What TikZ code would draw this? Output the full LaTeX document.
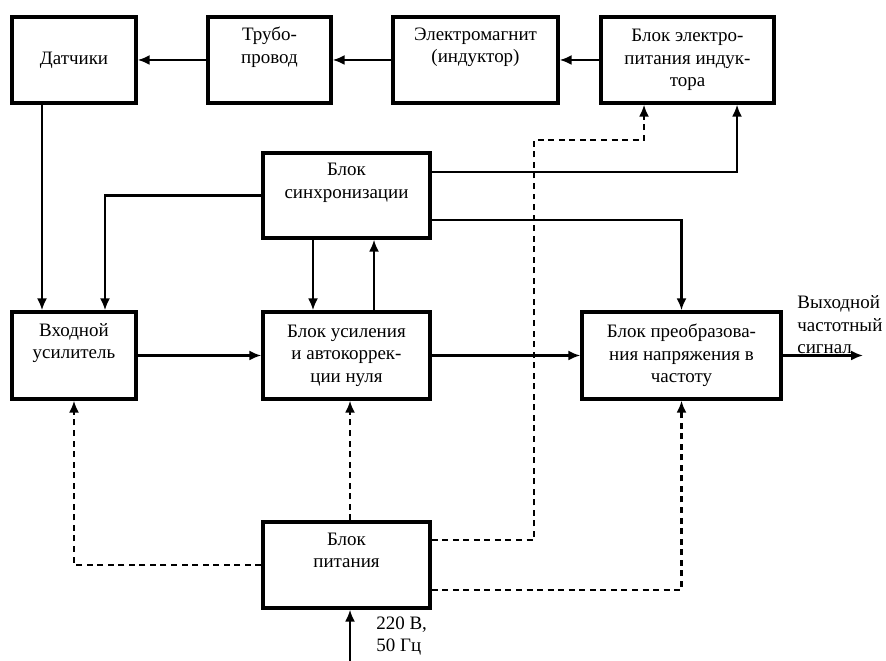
\documentclass[tikz,border=0pt]{standalone}
\usepackage{fontspec}
\setmainfont{Liberation Serif}
\usetikzlibrary{arrows.meta}

\begin{document}
\begin{tikzpicture}[
  blok/.style={draw, line width=1.9pt, align=center, inner sep=0pt, minimum height=1.72cm, font=\fontsize{10.8}{12.8}\selectfont},
  podpis/.style={align=left, inner sep=0pt, font=\fontsize{10.8}{12.8}\selectfont},
  svaz/.style={line width=1.2pt, -{Latex[length=2.4mm,width=2mm]}},
  pitan/.style={svaz, dash pattern=on 3.4pt off 2.6pt}
]
\useasboundingbox (0,0) rectangle (17.72,13.22);

% Draw the blocks
\node[blok, minimum width=2.48cm] (datch) at (1.48,12.02) {Датчики};
\node[blok, minimum width=2.46cm] (truba) at (5.39,12.02) {Трубо-\\провод\\\strut};
\node[blok, minimum width=3.30cm] (elmag) at (9.51,12.02) {Электромагнит\\(индуктор)\\\strut};
\node[blok, minimum width=3.46cm] (bpi) at (13.75,12.02) {Блок электро-\\питания индук-\\тора};
\node[blok, minimum width=3.34cm, minimum height=1.70cm] (sync) at (6.93,9.31) {Блок\\синхронизации\\\strut};
\node[blok, minimum width=2.48cm, minimum height=1.74cm] (vhod) at (1.48,6.11) {Входной\\усилитель\\\strut};
\node[blok, minimum width=3.34cm, minimum height=1.74cm] (usil) at (6.93,6.11) {Блок усиления\\и автокоррек-\\ции нуля};
\node[blok, minimum width=3.98cm, minimum height=1.74cm] (preob) at (13.63,6.11) {Блок преобразова-\\ния напряжения в\\частоту};
\node[blok, minimum width=3.34cm] (pit) at (6.93,1.92) {Блок\\питания\\\strut};

% Labels and free ends
\node[podpis, anchor=west] (vyhod) at (15.94,6.72) {Выходной\\частотный\\сигнал};
\node[podpis, anchor=west] (set) at (7.52,0.50) {220 В,\\50 Гц};
\coordinate (out) at (17.26,6.11);
\coordinate (inp) at (7.0,-0.2);
\coordinate (bend) at (10.68,10.42);

% Signal connections
\draw[svaz] (bpi) -- (elmag);
\draw[svaz] (elmag) -- (truba);
\draw[svaz] (truba) -- (datch);
\draw[svaz] ([xshift=-0.64cm]datch.south) -- ([xshift=-0.64cm]vhod.north);
\draw[svaz] (sync.west) -| ([xshift=0.62cm]vhod.north);
\draw[svaz] ([xshift=-0.67cm]sync.south) -- ([xshift=-0.67cm]usil.north);
\draw[svaz] ([xshift=0.55cm]usil.north) -- ([xshift=0.55cm]sync.south);
\draw[svaz] ([yshift=0.47cm]sync.east) -| ([xshift=0.99cm]bpi.south);
\draw[svaz] ([yshift=-0.49cm]sync.east) -| (preob.north);
\draw[svaz] (vhod) -- (usil);
\draw[svaz] (usil) -- (preob);
\draw[svaz] (preob) -- (out);
\draw[svaz] (inp) -- (inp |- pit.south);

% Power supply lines
\draw[pitan] ([yshift=0.5cm]pit.east) -| (bend) -| ([xshift=-0.87cm]bpi.south);
\draw[pitan] ([yshift=-0.5cm]pit.east) -| (preob.south);
\draw[pitan] ([xshift=0.07cm]pit.north) -- ([xshift=0.07cm]usil.south);
\draw[pitan] (pit.west) -| (vhod.south);
\end{tikzpicture}
\end{document}
